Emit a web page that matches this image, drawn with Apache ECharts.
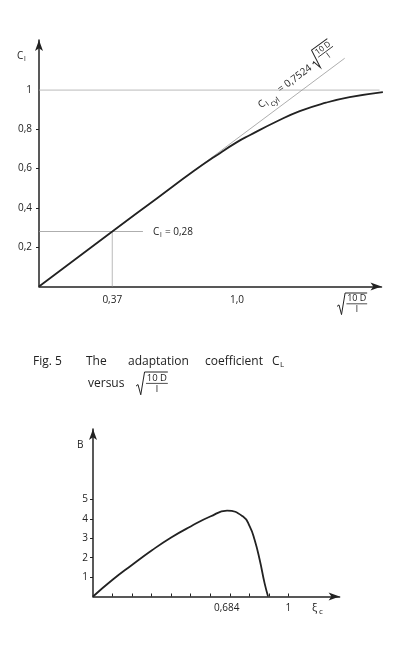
<!DOCTYPE html>
<html>
<head>
<meta charset="utf-8">
<script src="https://cdn.jsdelivr.net/npm/echarts@6/dist/echarts.min.js"></script>
<style>
  html, body { margin: 0; padding: 0; background: #fff; }
  #chart { width: 410px; height: 651px; }
</style>
</head>
<body>
<div id="chart"></div>
<script>
// upper figure: C_l versus sqrt(10D/l)
const clX = [0, 0.37, 0.6, 0.778, 0.9, 1.0, 1.064, 1.2, 1.317, 1.45, 1.569, 1.737];
const clY = [0, 0.28, 0.452, 0.585, 0.67, 0.735, 0.77, 0.84, 0.893, 0.936, 0.964, 0.99];
const cylX = [0, 1.544];
const cylY = [0, 1.162];
const unityX = [0, 1.72];
const unityY = [1, 1];
const refX = 0.37;
const refY = 0.28;
const refLineEndX = 0.525;
const topXLabels = [0.37, 1.0];
const topYLabels = [0.2, 0.4, 0.6, 0.8, 1];
const topYTicks = [0.2, 0.4, 0.6, 0.8];

// lower figure: B versus xi_c
const bX = [0, 0.1, 0.196, 0.3, 0.4, 0.5, 0.6, 0.686, 0.768, 0.802, 0.827, 0.853, 0.878, 0.896];
const bY = [0, 0.86, 1.6, 2.37, 3.04, 3.61, 4.12, 4.42, 4.12, 3.61, 2.92, 1.89, 0.69, 0];
const botXTicks = [0.1, 0.2, 0.3, 0.4, 0.5, 0.6, 0.7, 0.8, 0.9, 1.0];
const botXLabels = [0.684, 1];
const botYLabels = [1, 2, 3, 4, 5];

const zip = (xs, ys) => xs.map((x, i) => [x, ys[i]]);
const FONT = 'Open Sans';
const INK = '#222';
const comma = (v) => String(v).replace('.', ',');

const txt = (x, y, text, size, extra) => Object.assign({
  type: 'text', x, y,
  style: { text, fontFamily: FONT, fontSize: size, fill: INK, textVerticalAlign: 'middle' }
}, extra || {});

// radical sign with fraction 10 D / l
function radical(x, y, fs, rotation) {
  const w = fs * 2.3;
  const h = fs * 2.4;
  const x0 = fs * 1.05;
  return {
    type: 'group', x, y, rotation: rotation || 0,
    children: [
      { type: 'polyline', shape: { points: [[0, h * 0.62], [2, h * 0.55], [fs * 0.5, h], [fs * 0.9, 0], [x0 + w, 0]] },
        style: { stroke: INK, lineWidth: 1, fill: null } },
      { type: 'text', x: x0 + w / 2, y: h * 0.27, style: { text: '10 D', fontFamily: FONT, fontSize: fs, fill: INK, align: 'center', verticalAlign: 'middle' } },
      { type: 'line', shape: { x1: x0, y1: h * 0.5, x2: x0 + w, y2: h * 0.5 }, style: { stroke: INK, lineWidth: 0.8 } },
      { type: 'text', x: x0 + w / 2, y: h * 0.76, style: { text: 'l', fontFamily: FONT, fontSize: fs, fill: INK, align: 'center', verticalAlign: 'middle' } }
    ]
  };
}

const rot = 36.5 * Math.PI / 180;

const chart = echarts.init(document.getElementById('chart'));
chart.setOption({
  backgroundColor: '#fff',
  animation: false,
  grid: [
    { left: 39, top: 40, width: 342.5, height: 246.5 },
    { left: 93, top: 429, width: 246.6, height: 167.5 }
  ],
  xAxis: [
    {
      gridIndex: 0, type: 'value', min: 0, max: 1.73,
      axisLine: { lineStyle: { color: INK, width: 1.5 }, symbol: ['none', 'arrow'], symbolSize: [6, 11] },
      axisTick: { show: false },
      splitLine: { show: false },
      axisLabel: { customValues: topXLabels, color: INK, fontFamily: FONT, fontSize: 10, margin: 9,
        formatter: (v) => (v === 1 ? '1,0' : comma(v)) }
    },
    {
      gridIndex: 1, type: 'value', min: 0, max: 1.262,
      axisLine: { lineStyle: { color: INK, width: 1.5 }, symbol: ['none', 'arrow'], symbolSize: [6, 11] },
      axisTick: { customValues: botXTicks, inside: true, length: 3, lineStyle: { color: INK } },
      splitLine: { show: false },
      axisLabel: { customValues: botXLabels, color: INK, fontFamily: FONT, fontSize: 10, margin: 7,
        formatter: (v) => comma(v) }
    }
  ],
  yAxis: [
    {
      gridIndex: 0, type: 'value', min: 0, max: 1.255,
      axisLine: { lineStyle: { color: INK, width: 1.5 }, symbol: ['none', 'arrow'], symbolSize: [6, 11] },
      axisTick: { customValues: topYTicks, length: 3, lineStyle: { color: INK } },
      splitLine: { show: false },
      axisLabel: { customValues: topYLabels, color: INK, fontFamily: FONT, fontSize: 10, margin: 7,
        formatter: (v) => (v === 1 ? '1' : comma(v)) }
    },
    {
      gridIndex: 1, type: 'value', min: 0, max: 8.63,
      axisLine: { lineStyle: { color: INK, width: 1.5 }, symbol: ['none', 'arrow'], symbolSize: [6, 11] },
      axisTick: { customValues: botYLabels, length: 3, lineStyle: { color: INK } },
      splitLine: { show: false },
      axisLabel: { customValues: botYLabels, color: INK, fontFamily: FONT, fontSize: 10, margin: 5 }
    }
  ],
  series: [
    { type: 'line', xAxisIndex: 0, yAxisIndex: 0, data: zip(unityX, unityY), showSymbol: false,
      lineStyle: { color: '#aaa', width: 0.8 } },
    { type: 'line', xAxisIndex: 0, yAxisIndex: 0, data: zip(cylX, cylY), showSymbol: false,
      lineStyle: { color: '#999', width: 0.8 } },
    { type: 'line', xAxisIndex: 0, yAxisIndex: 0, data: [[0, refY], [refLineEndX, refY]], showSymbol: false,
      lineStyle: { color: '#999', width: 0.8 } },
    { type: 'line', xAxisIndex: 0, yAxisIndex: 0, data: [[refX, 0], [refX, refY]], showSymbol: false,
      lineStyle: { color: '#aaa', width: 0.8 } },
    { type: 'line', xAxisIndex: 0, yAxisIndex: 0, data: zip(clX, clY), smooth: true,
      showSymbol: false, lineStyle: { color: INK, width: 1.8 } },
    { type: 'line', xAxisIndex: 1, yAxisIndex: 1, data: zip(bX, bY), smooth: true,
      showSymbol: false, lineStyle: { color: INK, width: 1.8 } }
  ],
  graphic: [
    // y label C_l
    txt(17, 56, 'C', 10), txt(24, 59, 'l', 7),
    // C_l = 0,28
    txt(153, 232, 'C', 10), txt(160, 235, 'l', 7), txt(165, 232, '= 0,28', 10),
    // x-axis label
    radical(337, 293, 9),
    // rotated formula along the tangent line
    {
      type: 'group', x: 263, y: 111, rotation: rot,
      children: [
        txt(0, -6, 'C', 10), txt(7, -3, 'l', 7), txt(10, 0, 'cyl', 8), txt(25, -7, '= 0,7524', 10),
        radical(68, -20, 8)
      ]
    },
    // caption
    txt(33, 362, 'Fig. 5', 12), txt(86, 362, 'The', 12), txt(128, 362, 'adaptation', 12),
    txt(205, 362, 'coefficient', 12), txt(272, 362, 'C', 12), txt(280, 365, 'L', 8),
    txt(88, 384, 'versus', 12), radical(136, 372, 9.5),
    // lower figure labels
    txt(77, 445, 'B', 10),
    txt(312, 608, 'ξ', 11), txt(319, 612, 'c', 8)
  ]
});
</script>
</body>
</html>
